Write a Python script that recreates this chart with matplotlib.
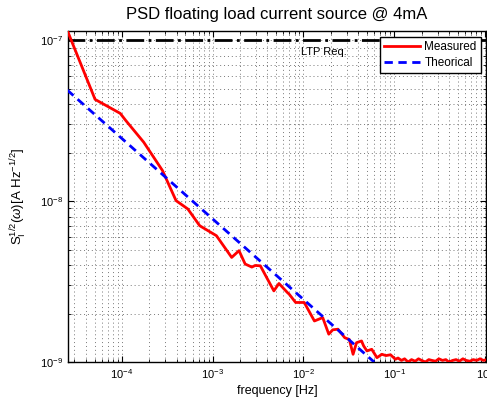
import matplotlib
matplotlib.use('Agg')
import matplotlib.pyplot as plt
from matplotlib.ticker import LogLocator, NullFormatter

plt.rcParams['font.family'] = ['Liberation Sans', 'DejaVu Sans']
plt.rcParams['mathtext.fontset'] = 'custom'
plt.rcParams['mathtext.rm'] = 'Liberation Sans'
plt.rcParams['mathtext.it'] = 'Liberation Sans:italic'

# measured spectrum
meas_freq = [2.55e-5, 5.07e-5, 9.6e-5, 1.1e-4, 1.74e-4, 2.8e-4, 3.95e-4, 5.33e-4,
             7.2e-4, 1.1e-3, 1.62e-3, 1.95e-3, 2.28e-3, 2.7e-3, 2.94e-3, 3.35e-3,
             4.72e-3, 5.37e-3, 6.65e-3, 6.95e-3, 8.2e-3, 1.02e-2, 1.32e-2, 1.63e-2,
             1.9e-2, 2.1e-2, 2.4e-2, 2.85e-2, 3.2e-2, 3.52e-2, 3.84e-2, 4.36e-2,
             4.6e-2, 5.0e-2, 5.65e-2, 6.45e-2, 7.3e-2, 8.1e-2, 9.1e-2, 1.03e-1,
             1.1e-1, 1.2e-1, 1.3e-1, 1.42e-1, 1.55e-1, 1.7e-1, 1.85e-1, 2.0e-1,
             2.2e-1, 2.4e-1, 2.6e-1, 2.85e-1, 3.1e-1, 3.4e-1, 3.7e-1, 4.0e-1,
             4.4e-1, 4.8e-1, 5.2e-1, 5.7e-1, 6.2e-1, 6.8e-1, 7.4e-1, 8.1e-1,
             8.8e-1, 9.6e-1, 1.05]
meas_log = [-6.95, -7.368, -7.455, -7.498, -7.634, -7.81, -7.997, -8.049,
            -8.153, -8.215, -8.35, -8.308, -8.391, -8.41, -8.40, -8.402,
            -8.558, -8.512, -8.568, -8.578, -8.63, -8.63, -8.745, -8.724,
            -8.827, -8.80, -8.796, -8.849, -8.86, -8.952, -8.88, -8.869,
            -8.90, -8.931, -8.921, -8.973, -8.952, -8.96, -8.955, -8.983,
            -8.975, -8.99, -8.98, -9.0, -8.985, -8.995, -8.98, -8.99,
            -9.0, -8.985, -8.99, -8.995, -8.98, -8.99, -8.985, -9.0,
            -8.99, -8.985, -8.995, -8.98, -8.99, -8.995, -8.985, -8.99,
            -8.98, -8.99, -8.985]
meas_vals = [10 ** v for v in meas_log]

# theoretical line (end points)
theo_freq = [2.5e-5, 6.0e-2]
theo_vals = [4.9e-8, 1.0e-9]

ltp_level = 1e-7

fig = plt.figure(figsize=(4.87, 4.03), dpi=100)
ax = fig.add_axes([0.1396, 0.1017, 0.858, 0.8213])

ax.plot([2.5e-5, 1.1], [ltp_level, ltp_level], color='black', lw=2, ls='-.', zorder=3)
ax.plot(meas_freq, meas_vals, color='red', lw=2, label='Measured', zorder=4)
ax.plot(theo_freq, theo_vals, color='blue', lw=2, ls=(0, (3, 2)), label='Theorical', zorder=4)

ax.set_xscale('log')
ax.set_yscale('log')
ax.set_xlim(2.55e-5, 1.02)
ax.set_ylim(1e-9, 1.14e-7)

ax.xaxis.set_minor_locator(LogLocator(base=10, subs=range(2, 10), numticks=20))
ax.yaxis.set_minor_locator(LogLocator(base=10, subs=range(2, 10), numticks=20))
ax.xaxis.set_minor_formatter(NullFormatter())
ax.yaxis.set_minor_formatter(NullFormatter())
ax.grid(True, which='both', color='#777777', ls=(0, (1, 3)), lw=0.7)
ax.tick_params(which='both', direction='in', top=True, right=True, labelsize=8)
ax.tick_params(which='major', length=4)
ax.tick_params(which='minor', length=2)
for s in ax.spines.values():
    s.set_linewidth(1.0)

ax.text(9.3e-3, 8.4e-8, 'LTP Req.', fontsize=8, ha='left', va='center')

leg = ax.legend(loc='upper right', bbox_to_anchor=(0.988, 0.982), fontsize=8.5,
                frameon=True, fancybox=False, borderaxespad=0, handlelength=3.0,
                borderpad=0.35, labelspacing=0.3, handletextpad=0.4, framealpha=1)
leg.get_frame().set_edgecolor('black')
leg.get_frame().set_linewidth(1.0)

ax.set_title('PSD floating load current source @ 4mA', fontsize=12, pad=9)
ax.set_xlabel('frequency [Hz]', fontsize=9, labelpad=3)
ax.set_ylabel(r'S$_\mathrm{I}^{1/2}$($\omega$)[A Hz$^{-1/2}$]', fontsize=9.5, labelpad=8)

fig.savefig('out.png', dpi=100)
